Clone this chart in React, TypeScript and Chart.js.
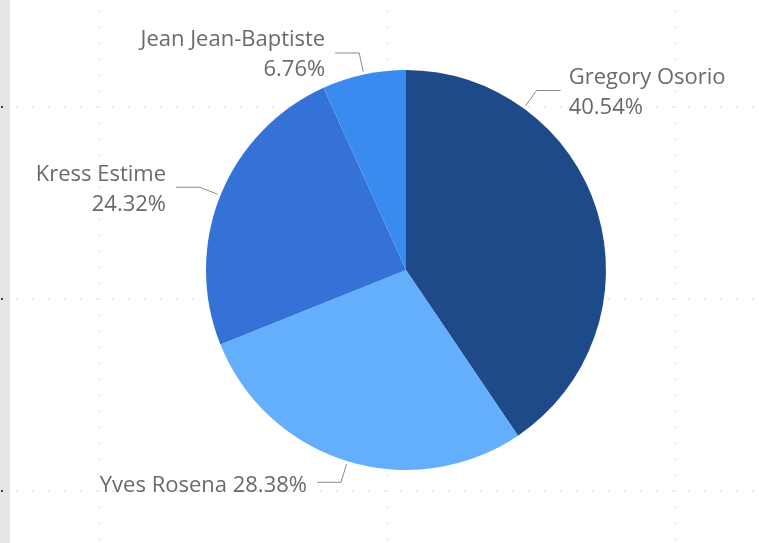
import React, { useEffect, useRef } from "react";
import { Chart, registerables } from "chart.js";

Chart.register(...registerables);

const names = ["Gregory Osorio", "Yves Rosena", "Kress Estime", "Jean Jean-Baptiste"];
const shares = [40.54, 28.38, 24.32, 6.76];
const colors = ["#1f4a8a", "#64affb", "#3572d8", "#3a8bef"];
// label layout (styling): where along the slice the leader starts, and lines of text
const anchorFrac = [0.247, 0.5, 0.5, 0.5];
const labelLines = [2, 1, 2, 2];
const gridY = [106, 298, 490];
const gridX = [98, 386, 674];

const bgPlugin = {
  id: "bg",
  beforeDraw(chart: any) {
    const ctx = chart.ctx;
    ctx.save();
    ctx.fillStyle = "#ffffff";
    ctx.fillRect(0, 0, chart.width, chart.height);
    ctx.fillStyle = "#e6e6e6";
    ctx.fillRect(0, 0, 10, chart.height);
    ctx.fillStyle = "#ebebeb";
    for (const y of gridY) {
      for (let x = 16; x < chart.width; x += 16) ctx.fillRect(x, y, 2, 2);
    }
    for (const x of gridX) {
      for (let y = 10; y < chart.height; y += 16) ctx.fillRect(x, y, 2, 2);
    }
    ctx.fillStyle = "#444";
    for (const y of gridY) ctx.fillRect(1, y, 2, 2);
    ctx.restore();
  },
};

const labelPlugin = {
  id: "lbl",
  afterDraw(chart: any) {
    const ctx = chart.ctx;
    const meta = chart.getDatasetMeta(0);
    ctx.save();
    ctx.font = "22px 'Open Sans', sans-serif";
    ctx.textBaseline = "middle";
    meta.data.forEach((arc: any, i: number) => {
      const p = arc.getProps(["x", "y", "startAngle", "endAngle", "outerRadius"], true);
      const a = p.startAngle + (p.endAngle - p.startAngle) * anchorFrac[i];
      const ax = p.x + Math.cos(a) * (p.outerRadius + 3);
      const ay = p.y + Math.sin(a) * (p.outerRadius + 3);
      const ex = p.x + Math.cos(a) * (p.outerRadius + 22);
      const ey = p.y + Math.sin(a) * (p.outerRadius + 22);
      const right = Math.cos(a) >= 0;
      const hx = ex + (right ? 24 : -24);
      ctx.strokeStyle = "#8a8a8a";
      ctx.lineWidth = 1;
      ctx.beginPath();
      ctx.moveTo(ax, ay);
      ctx.lineTo(ex, ey);
      ctx.lineTo(hx, ey);
      ctx.stroke();
      ctx.fillStyle = "#6a6a6a";
      ctx.textAlign = right ? "left" : "right";
      const tx = hx + (right ? 8 : -10);
      const pct = shares[i].toFixed(2) + "%";
      if (labelLines[i] === 2) {
        ctx.fillText(names[i], tx, ey - 13);
        ctx.fillText(pct, tx, ey + 17);
      } else {
        ctx.fillText(names[i] + " " + pct, tx, ey + 3);
      }
    });
    ctx.restore();
  },
};

export default function App() {
  const ref = useRef<HTMLCanvasElement>(null);
  useEffect(() => {
    const chart = new Chart(ref.current!, {
      type: "pie",
      data: {
        labels: names,
        datasets: [{ data: shares, backgroundColor: colors, borderWidth: 0 }],
      },
      options: {
        animation: false,
        responsive: false,
        devicePixelRatio: 1,
        layout: { padding: { left: 206, right: 153, top: 70, bottom: 73 } },
        plugins: { legend: { display: false }, tooltip: { enabled: false } },
      },
      plugins: [bgPlugin, labelPlugin],
    });
    return () => chart.destroy();
  }, []);
  return (
    <div style={{ position: "fixed", left: 0, top: 0, width: 759, height: 543 }}>
      <canvas ref={ref} width={759} height={543} style={{ display: "block" }} />
    </div>
  );
}
